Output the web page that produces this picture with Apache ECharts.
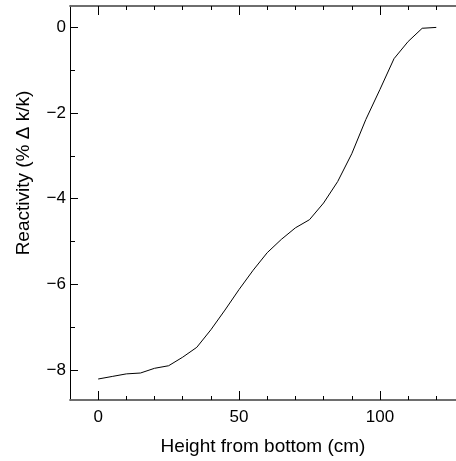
<!DOCTYPE html>
<html>
<head>
<meta charset="utf-8">
<script src="https://cdn.jsdelivr.net/npm/echarts@6/dist/echarts.min.js"></script>
<style>
html, body { margin: 0; padding: 0; background: #fff; }
#main { width: 456px; height: 461px; }
</style>
</head>
<body>
<div id="main"></div>
<script>
// 高度 (cm)
var heights = [0, 5, 10, 15, 20, 25, 30, 35, 40, 45, 50, 55, 60, 65, 70, 75, 80, 85, 90, 95, 100, 105, 110, 115, 120];
// 反应性 (%Δk/k)
var reactivity = [-8.21, -8.15, -8.09, -8.07, -7.96, -7.9, -7.7, -7.47, -7.06, -6.6, -6.12, -5.67, -5.26, -4.95, -4.68, -4.49, -4.1, -3.6, -2.95, -2.15, -1.45, -0.73, -0.33, -0.02, 0];

var xMajorTicks = [0, 50, 100];
var xMinorTicks = [0, 10, 20, 30, 40, 50, 60, 70, 80, 90, 100, 110, 120];
var yMajorTicks = [-8, -6, -4, -2, 0];
var yMinorTicks = [-7, -5, -3, -1];

var fontFamily = 'Liberation Sans, Arial, sans-serif';

var seriesData = [];
for (var i = 0; i < heights.length; i++) {
    seriesData.push([heights[i], reactivity[i]]);
}

function xAxisCfg(pos, ticks, len, withLabel) {
    return {
        type: 'value',
        position: pos,
        min: -10,
        max: 127,
        splitLine: { show: false },
        axisLine: { show: true, onZero: false, lineStyle: { color: '#666', width: 1.5 } },
        axisTick: { show: true, inside: true, length: len, customValues: ticks, lineStyle: { color: '#000', width: 1 } },
        axisLabel: withLabel ? {
            show: true, customValues: xMajorTicks, color: '#000', fontSize: 17, fontFamily: fontFamily, margin: 9
        } : { show: false },
        name: withLabel ? 'Height from bottom (cm)' : '',
        nameLocation: 'middle',
        nameGap: 37,
        nameTextStyle: { color: '#000', fontSize: 19, fontFamily: fontFamily }
    };
}

function yAxisCfg(ticks, len, withLabel) {
    return {
        type: 'value',
        position: 'left',
        min: -8.7,
        max: 0.5,
        splitLine: { show: false },
        axisLine: { show: true, onZero: false, lineStyle: { color: '#000', width: 1 } },
        axisTick: { show: true, inside: true, length: len, customValues: ticks, lineStyle: { color: '#000', width: 1 } },
        axisLabel: withLabel ? {
            show: true, customValues: yMajorTicks, color: '#000', fontSize: 17, fontFamily: fontFamily, margin: 4,
            formatter: function (v) { return v < 0 ? '\u2212' + Math.abs(v) : String(v); }
        } : { show: false },
        name: withLabel ? 'Reactivity (% \u0394 k/k)' : '',
        nameLocation: 'middle',
        nameGap: 37,
        nameTextStyle: { color: '#000', fontSize: 19, fontFamily: fontFamily, padding: [0, 0, 0, 60] }
    };
}

var myChart = echarts.init(document.getElementById('main'));
myChart.setOption({
    animation: false,
    backgroundColor: '#fff',
    grid: { left: 70, right: 0, top: 6, bottom: 61, containLabel: false },
    xAxis: [
        xAxisCfg('bottom', xMajorTicks, 9, true),
        xAxisCfg('bottom', xMinorTicks, 4, false),
        xAxisCfg('top', xMajorTicks, 9, false),
        xAxisCfg('top', xMinorTicks, 4, false)
    ],
    yAxis: [
        yAxisCfg(yMajorTicks, 8, true),
        yAxisCfg(yMinorTicks, 5, false)
    ],
    series: [
        {
            type: 'line',
            xAxisIndex: 0,
            yAxisIndex: 0,
            data: seriesData,
            showSymbol: false,
            lineStyle: { color: '#000', width: 1 }
        }
    ]
});
</script>
</body>
</html>
